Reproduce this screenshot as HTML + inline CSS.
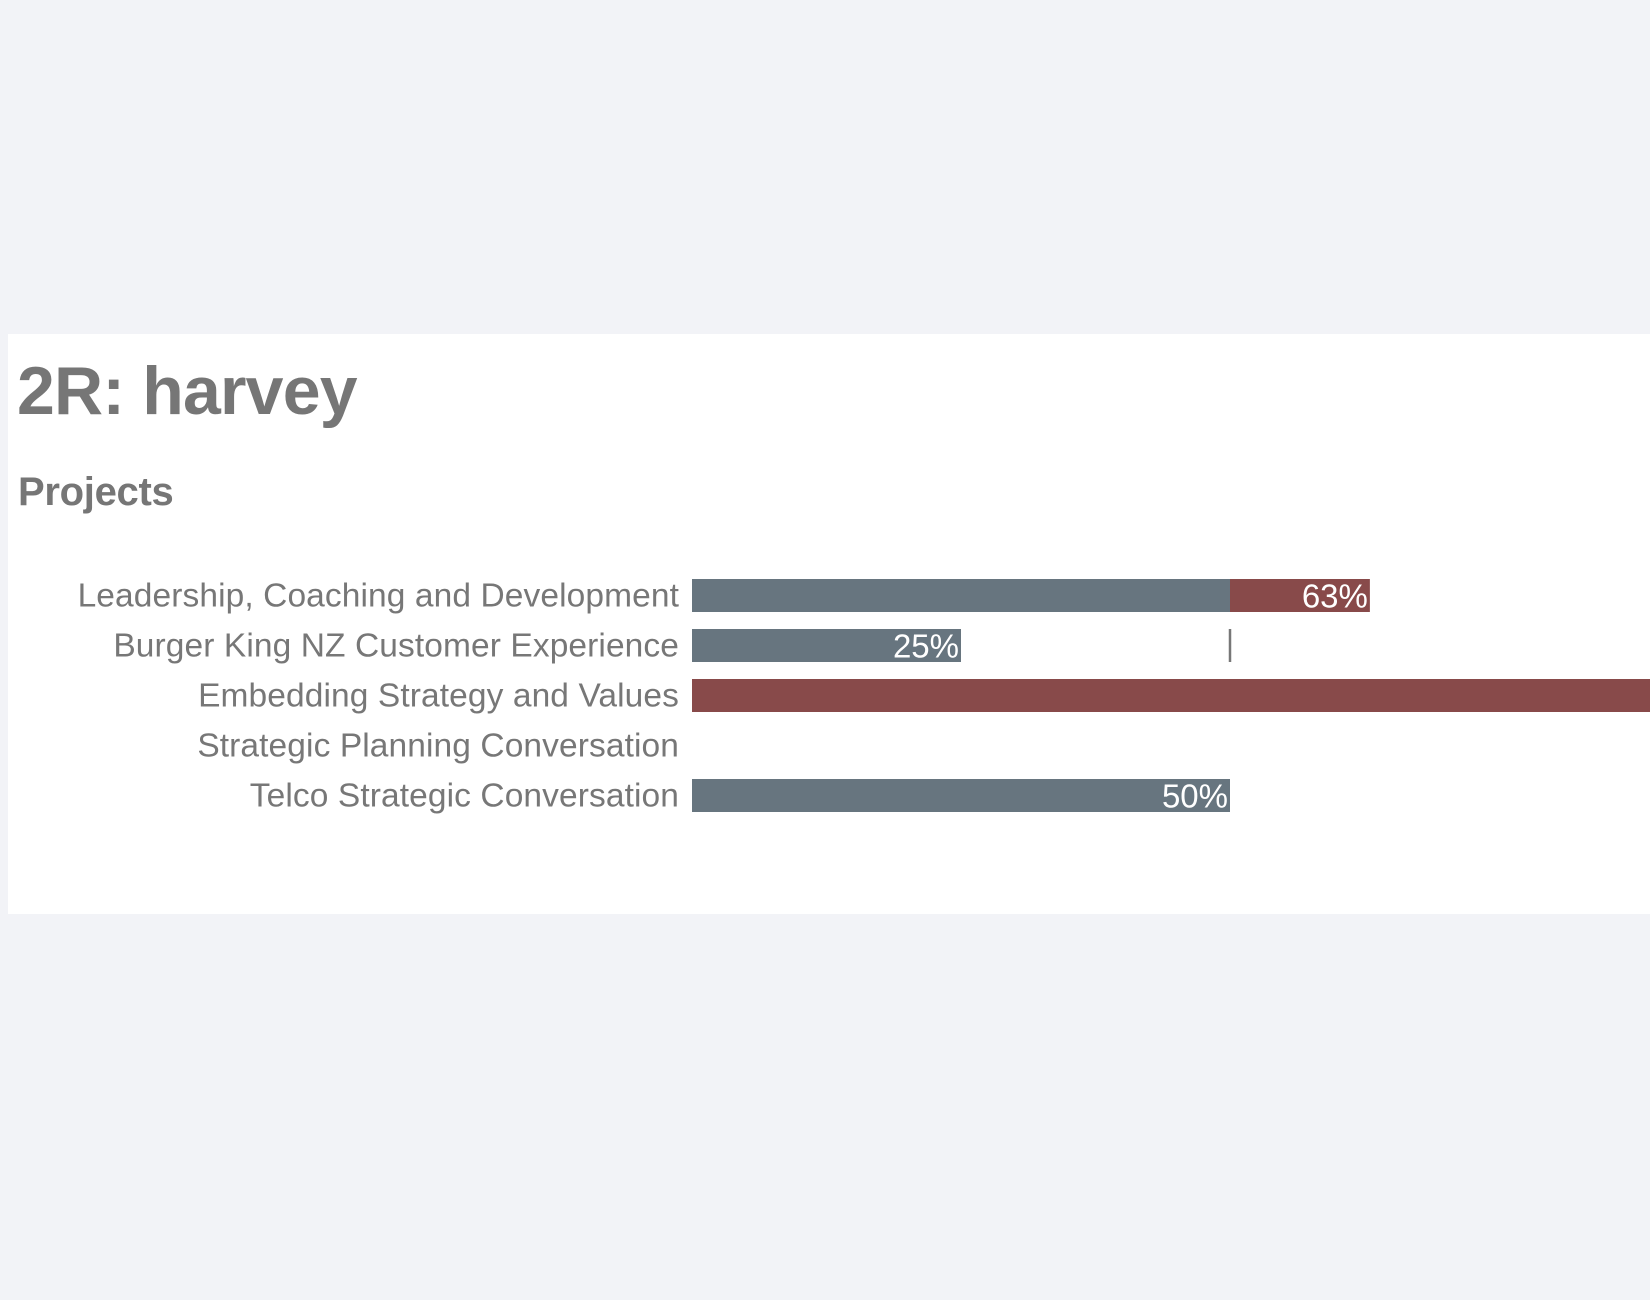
<!DOCTYPE html>
<html><head><meta charset="utf-8"><style>
html,body{margin:0;padding:0;width:1650px;height:1300px;background:#f2f3f7;overflow:hidden;font-family:"Liberation Sans",Arial,sans-serif}
#panel{position:absolute;left:8px;top:334px;width:1642px;height:580px;background:#fff}
h1{position:absolute;left:9px;top:18px;margin:0;font-size:68px;font-weight:bold;color:#767676;letter-spacing:-0.8px}
h2{position:absolute;left:10px;top:136px;margin:0;font-size:40px;font-weight:bold;color:#767676;letter-spacing:-0.3px}
svg{position:absolute;left:0;top:0}
</style></head><body>
<div id="panel">
<h1>2R: harvey</h1>
<h2>Projects</h2>
<svg id="chart" width="1642" height="580"></svg>
</div>
<script>
const categories=["Leadership, Coaching and Development","Burger King NZ Customer Experience","Embedding Strategy and Values","Strategic Planning Conversation","Telco Strategic Conversation"];
const completeValues=[50,25,0,0,50];
const overValues=[13,0,150,0,0];
const printedLabels=["63%","25%","","","50%"];
const markerValues=[null,50,null,null,null];
const NS="http://www.w3.org/2000/svg";
const svg=document.getElementById('chart');
const x0=684, full=1076, rowTop=245, rowStep=50, barH=33;
function xScale(v){return x0+v/100*full;}
function yScale(i){return rowTop+i*rowStep;}
function mk(t,a){const e=document.createElementNS(NS,t);for(const k in a)e.setAttribute(k,a[k]);svg.appendChild(e);return e;}
categories.forEach((c,i)=>{
  const y=yScale(i);
  const lab=mk('text',{x:671,y:y+barH/2+11,'text-anchor':'end','font-size':33.5,fill:'#777','letter-spacing':'0.1'});
  lab.textContent=c;
  
  
  if(completeValues[i]>0){
    const r=mk('rect',{x:xScale(0),y:y,width:xScale(completeValues[i])-xScale(0),height:barH,fill:'#67757f'});
    
    
  }
  if(overValues[i]>0){
    const r=mk('rect',{x:xScale(completeValues[i]),y:y,width:xScale(completeValues[i]+overValues[i])-xScale(completeValues[i]),height:barH,fill:'#884a4a'});
    
    
  }
  if(markerValues[i]!==null){
    const l=mk('line',{x1:xScale(markerValues[i]),x2:xScale(markerValues[i]),y1:y,y2:y+barH,stroke:'#777','stroke-width':2.5});
    
    
  }
  if(printedLabels[i]){
    const t=mk('text',{x:xScale(completeValues[i]+overValues[i])-2,y:y+barH/2+12,'text-anchor':'end','font-size':33,fill:'#fff'});
    t.textContent=printedLabels[i];
    
    
  }
});
</script>
</body></html>
